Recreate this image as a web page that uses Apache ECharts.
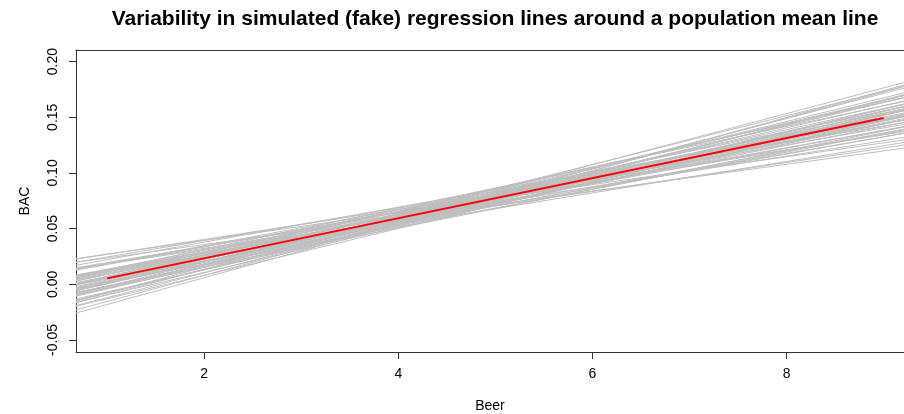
<!DOCTYPE html>
<html>
<head>
<meta charset="utf-8">
<title>Simulated regression lines</title>
<script src="https://cdn.jsdelivr.net/npm/echarts@6/dist/echarts.min.js"></script>
<style>
  html, body { margin: 0; padding: 0; background: #fff; }
  #main { width: 904px; height: 414px; }
</style>
</head>
<body>
<div id="main"></div>
<script>
// simulated lines are drawn between these two x values
var xLeft = 0.68;
var xRight = 9.32;
// visible x range (the plot is cut at the right edge of the image)
var xMin = 0.68;
var xMax = 9.21;

// simulated lines: BAC read at x = xLeft and x = xRight
var simLeftY = [
  0.0230, 0.0141, 0.0226, 0.0141, 0.0070, 0.0149, 0.0198, 0.0077, 0.0139, 0.0042,
  0.0084, 0.0127, 0.0049, 0.0132, -0.0006, 0.0057, 0.0070, 0.0002, 0.0079, 0.0011,
  0.0034, -0.0034, -0.0001, 0.0055, -0.0029, 0.0014, -0.0074, -0.0021, -0.0049, -0.0002,
  -0.0080, -0.0057, 0.0006, -0.0132, -0.0059, -0.0107, -0.0044, -0.0142, -0.0099, -0.0197,
  -0.0098, -0.0149, -0.0090, -0.0191, -0.0166, -0.0151, -0.0230, 0.0198, 0.0070, -0.0073,
  -0.0258, 0.0027, -0.0037, -0.0161, 0.0171, -0.0095
];
var simRightY = [
  0.1310, 0.1265, 0.1385, 0.1334, 0.1289, 0.1394, 0.1469, 0.1373, 0.1453, 0.1373,
  0.1433, 0.1493, 0.1433, 0.1532, 0.1412, 0.1492, 0.1522, 0.1472, 0.1557, 0.1507,
  0.1546, 0.1496, 0.1546, 0.1611, 0.1536, 0.1596, 0.1526, 0.1595, 0.1585, 0.1640,
  0.1580, 0.1620, 0.1700, 0.1580, 0.1669, 0.1639, 0.1719, 0.1639, 0.1699, 0.1619,
  0.1743, 0.1718, 0.1803, 0.1728, 0.1787, 0.1837, 0.1802, 0.1236, 0.1661, 0.1432,
  0.1816, 0.1695, 0.1407, 0.1594, 0.1528, 0.1530
];

// population mean line
var meanX = [1, 9];
var meanY = [0.0053, 0.1493];

var yTicks = [-0.05, 0, 0.05, 0.10, 0.15, 0.20];
var xTicks = [2, 4, 6, 8];

var series = [];
for (var i = 0; i < simLeftY.length; i++) {
  series.push({
    type: 'line',
    data: [[xLeft, simLeftY[i]], [xRight, simRightY[i]]],
    symbol: 'none',
    silent: true,
    clip: true,
    lineStyle: { color: '#bebebe', width: 1 },
    z: 2
  });
}
series.push({
  type: 'line',
  data: [[meanX[0], meanY[0]], [meanX[1], meanY[1]]],
  symbol: 'none',
  silent: true,
  lineStyle: { color: '#ff0000', width: 2 },
  z: 3
});

var font = 'Liberation Sans, Arial, sans-serif';
var boxLine = { show: true, onZero: false, lineStyle: { color: '#333', width: 1 } };
var chart = echarts.init(document.getElementById('main'));
chart.setOption({
  animation: false,
  title: {
    text: 'Variability in simulated (fake) regression lines around a population mean line',
    left: 490,
    top: 4,
    textAlign: 'center',
    textStyle: { fontFamily: font, fontWeight: 'bold', fontSize: 21, color: '#000' }
  },
  grid: { left: 76, right: 0, top: 50, bottom: 62, outerBoundsMode: 'none', containLabel: false },
  xAxis: [{
    type: 'value',
    min: xMin, max: xMax,
    name: 'Beer',
    nameLocation: 'middle',
    nameGap: 47,
    nameTextStyle: { fontFamily: font, fontSize: 14, color: '#000' },
    axisLine: boxLine,
    splitLine: { show: false },
    axisTick: { show: true, length: 7, lineStyle: { color: '#333' }, customValues: xTicks },
    axisLabel: { fontFamily: font, fontSize: 14, color: '#000', margin: 15, customValues: xTicks }
  }, {
    type: 'value',
    position: 'top',
    min: xMin, max: xMax,
    axisLine: boxLine,
    splitLine: { show: false },
    axisTick: { show: false },
    axisLabel: { show: false }
  }],
  yAxis: {
    type: 'value',
    min: -0.0608, max: 0.2104,
    name: 'BAC',
    nameLocation: 'middle',
    nameGap: 44,
    nameTextStyle: { fontFamily: font, fontSize: 14, color: '#000' },
    axisLine: boxLine,
    splitLine: { show: false },
    axisTick: { show: true, length: 7, lineStyle: { color: '#333' }, customValues: yTicks },
    axisLabel: {
      fontFamily: font, fontSize: 14, color: '#000', margin: 16, rotate: 90,
      customValues: yTicks,
      formatter: function (v) { return v.toFixed(2); }
    }
  },
  series: series
});
</script>
</body>
</html>
